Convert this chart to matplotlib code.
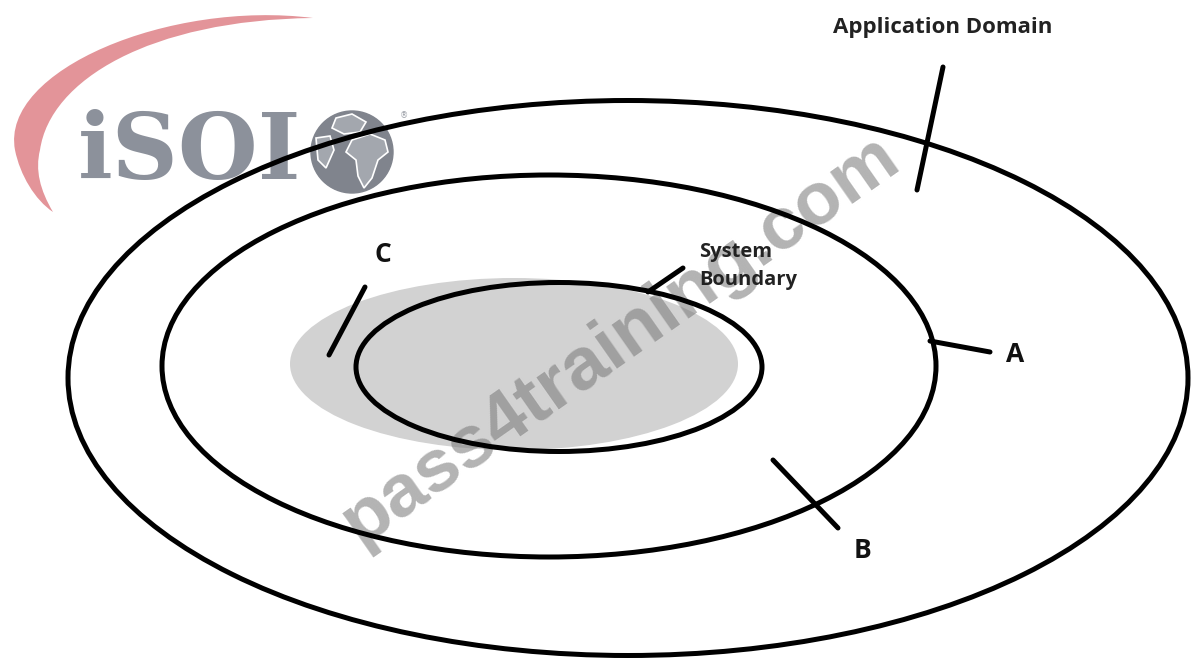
import matplotlib.pyplot as plt
import numpy as np
from matplotlib.patches import Ellipse, Circle, Polygon, PathPatch
from matplotlib.path import Path

# diagram geometry in picture pixels (x, y from top-left)
ring_names = ["application", "middle", "system"]
ring_centers = [(628, 378), (549, 366), (559, 367)]
ring_sizes = [(1120, 555), (774, 382), (406, 169)]

shade_center = (514, 364)
shade_size = (448, 172)

pointer_lines = [((943, 67), (917, 190)),   # application domain
                 ((365, 287), (329, 355)),  # C
                 ((683, 268), (648, 292)),  # system boundary
                 ((930, 341), (990, 352)),  # A
                 ((773, 460), (838, 528))]  # B

labels = ["Application Domain", "System\nBoundary", "C", "A", "B"]
label_pos = [(943, 27), (699, 266), (383, 255), (1015, 355), (862, 550)]

# logo swoosh outline (bezier control points)
swoosh_pts = [(313, 18), (170, 0), (0, 70), (15, 150),
              (20, 175), (35, 200), (53, 212),
              (40, 190), (35, 170), (40, 150),
              (50, 80), (150, 20), (313, 18)]

fig = plt.figure(figsize=(11.91, 6.58), dpi=100)
ax = fig.add_axes([0, 0, 1, 1])
ax.set_xlim(0, 1191)
ax.set_ylim(658, 0)
ax.axis("off")

# logo
codes = [Path.MOVETO] + [Path.CURVE4] * 12
ax.add_patch(PathPatch(Path(swoosh_pts, codes), fc="#e39499", lw=0, zorder=1))

ax.text(78, 153, "iSOI", fontsize=66, family="DejaVu Serif", fontweight="bold",
        color="#8c919b", va="center", ha="left", zorder=2)
ax.add_patch(Circle((352, 152), 41, color="#80848d", zorder=2))
africa = [(352, 140), (370, 134), (385, 140), (388, 152), (378, 160),
          (372, 178), (364, 188), (358, 176), (356, 160), (346, 152)]
europe = [(336, 118), (352, 114), (366, 122), (360, 132), (344, 134), (332, 128)]
america = [(316, 138), (330, 136), (334, 150), (326, 168), (318, 160)]
for shp in (africa, europe, america):
    ax.add_patch(Polygon(shp, closed=True, fc="#a3a7ae", ec="white", lw=1.2, zorder=3))
ax.text(404, 116, "®", fontsize=6, color="#9a9ea6", ha="center", va="center", zorder=3)

# grey shaded region
ax.add_patch(Ellipse(shade_center, shade_size[0], shade_size[1], color="#d2d2d2", lw=0, zorder=4))

# watermark (under the lines)
ax.text(620, 340, "pass4training.com", fontsize=54, fontweight="bold",
        family="Liberation Sans", color="#7c7c7c", alpha=0.58, rotation=35,
        ha="center", va="center", zorder=4.5)

for name, c, s in zip(ring_names, ring_centers, ring_sizes):
    ax.add_patch(Ellipse(c, s[0], s[1], fill=False, ec="black", lw=3.6, zorder=5))

for p0, p1 in pointer_lines:
    ax.plot([p0[0], p1[0]], [p0[1], p1[1]], color="black", lw=3.6,
            solid_capstyle="round", zorder=5)

for i, (txt, pos) in enumerate(zip(labels, label_pos)):
    if i == 0:
        ax.text(*pos, txt, fontsize=16, fontweight="bold", family="Open Sans",
                color="#222222", ha="center", va="center", zorder=6)
    elif i == 1:
        ax.text(*pos, txt, fontsize=14.5, fontweight="bold", family="Open Sans",
                color="#222222", ha="left", va="center", linespacing=1.6, zorder=6)
    else:
        ax.text(*pos, txt, fontsize=19, fontweight="bold", family="Open Sans",
                color="#111111", ha="center", va="center", zorder=6)

fig.savefig("out.png", dpi=100)
